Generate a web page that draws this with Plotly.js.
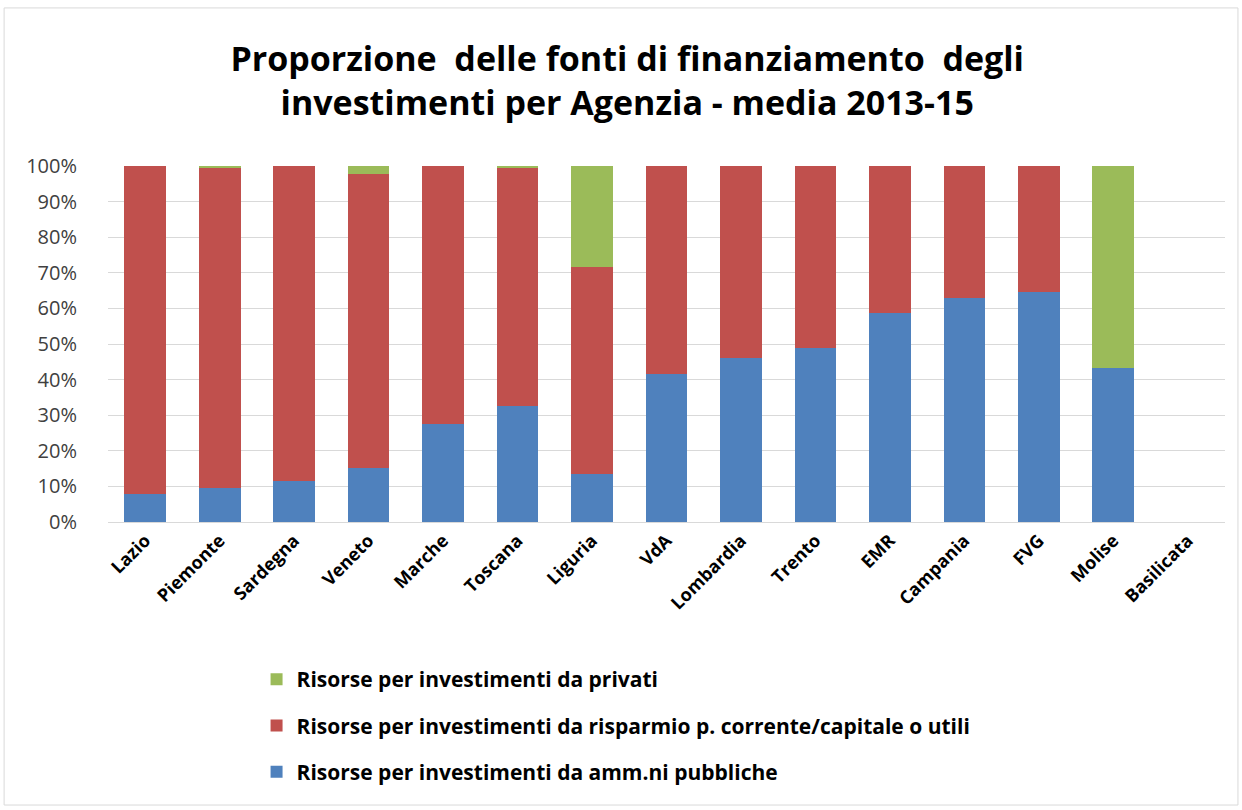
<!DOCTYPE html>
<html>
<head>
<meta charset="utf-8">
<script src="https://cdn.plot.ly/plotly-3.0.1.min.js"></script>
<style>html,body{margin:0;padding:0;background:#fff;}#chart{width:1242px;height:810px;}</style>
</head>
<body>
<div id="chart"></div>
<script>
const categories = ["Lazio","Piemonte","Sardegna","Veneto","Marche","Toscana","Liguria","VdA","Lombardia","Trento","EMR","Campania","FVG","Molise","Basilicata"];
const pubbliche = [8, 9.5, 11.5, 15.2, 27.5, 32.6, 13.5, 41.6, 46.2, 48.9, 58.6, 63, 64.7, 43.2, 0];
const risparmio = [92, 90, 88.5, 82.6, 72.5, 66.8, 58.1, 58.4, 53.8, 51.1, 41.4, 37, 35.3, 0, 0];
const privati = [0, 0.5, 0, 2.2, 0, 0.6, 28.4, 0, 0, 0, 0, 0, 0, 56.8, 0];
const seriesNames = [
  "Risorse per investimenti da amm.ni pubbliche",
  "Risorse per investimenti da risparmio p. corrente/capitale o utili",
  "Risorse per investimenti da privati"
];
const yTicks = [0,10,20,30,40,50,60,70,80,90,100];

const colors = ["#4F81BD", "#C0504D", "#9BBB59"];
const series = [pubbliche, risparmio, privati];
const fontFam = "'Open Sans', Arial, sans-serif";

const data = series.map((vals, i) => ({
  type: "bar",
  x: categories,
  y: vals,
  name: seriesNames[i],
  legendgroup: "g" + i,
  legendrank: 3 - i,
  marker: {color: colors[i], line: {width: 0}},
  hoverinfo: "x+y+name"
}));

const layout = {
  width: 1242, height: 810,
  margin: {l: 108, r: 17, t: 166, b: 288},
  paper_bgcolor: "#ffffff",
  plot_bgcolor: "#ffffff",
  barmode: "stack",
  bargap: 0.44,
  title: {
    text: "<b>Proporzione  delle fonti di finanziamento  degli<br>investimenti per Agenzia - media 2013-15</b>",
    font: {family: fontFam, size: 34, color: "#000000"},
    x: 0.505, xanchor: "center",
    y: 0.912, yanchor: "middle", yref: "container"
  },
  xaxis: {
    type: "category",
    tickangle: -45,
    tickfont: {family: fontFam, size: 18, color: "#000000", weight: "bold"},
    showline: true, linecolor: "#D9D9D9", linewidth: 1,
    ticks: "", showgrid: false
  },
  yaxis: {
    range: [0, 100],
    tickvals: yTicks,
    ticktext: yTicks.map(v => v + "%"),
    tickfont: {family: fontFam, size: 20, color: "#404040"},
    showgrid: true, gridcolor: "#D9D9D9", gridwidth: 1,
    zeroline: false, showline: false, ticks: "",
    ticklabelstandoff: 30
  },
  showlegend: true,
  legend: {
    orientation: "v",
    traceorder: "grouped",
    tracegroupgap: 16,
    x: 0.133, xanchor: "left",
    y: -0.385, yanchor: "top",
    font: {family: fontFam, size: 21, color: "#000000", weight: "bold"},
    itemwidth: 30
  },
  shapes: [{
    type: "rect", xref: "paper", yref: "paper",
    x0: -0.093, x1: 1.0116, y0: -0.795, y1: 1.444,
    line: {color: "#D9D9D9", width: 1}, fillcolor: "rgba(0,0,0,0)"
  }]
};

Plotly.newPlot("chart", data, layout, {displayModeBar: false, staticPlot: true});
</script>
</body>
</html>
